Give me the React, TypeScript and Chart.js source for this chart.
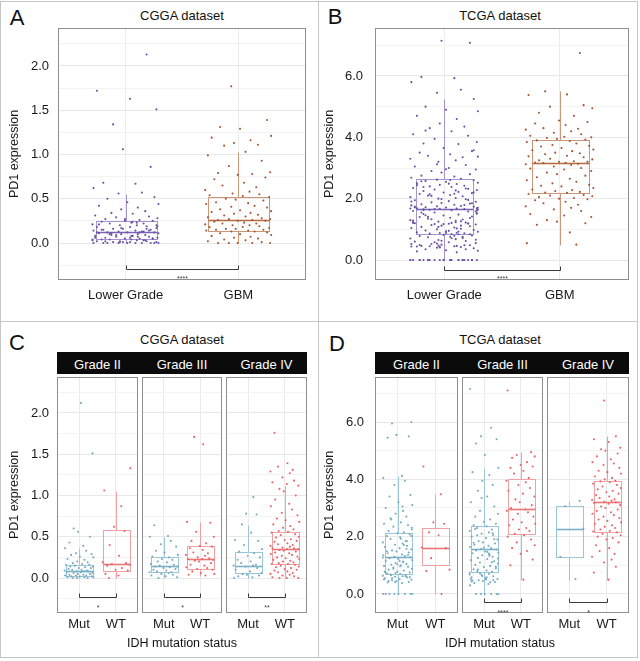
import React, { useEffect, useRef } from "react";
import { Chart, registerables } from "chart.js";
Chart.register(...registerables);

const FONT = '"Liberation Sans", Arial, Helvetica, sans-serif';

// ---------- categories & ticks ----------
const AB_CATEGORIES = ["Lower Grade", "GBM"];
const IDH_CATEGORIES = ["Mut", "WT"];
const GRADES = ["Grade II", "Grade III", "Grade IV"];
const CGGA_MAJOR_TICKS = [0, 0.5, 1, 1.5, 2];
const CGGA_MINOR_TICKS = [-0.25, 0.25, 0.75, 1.25, 1.75, 2.25];
const TCGA_MAJOR_TICKS = [0, 2, 4, 6];
const TCGA_MINOR_TICKS = [1, 3, 5, 7];

// ---------- box statistics: [lower whisker, Q1, median, Q3, upper whisker] ----------
const A_LG_BOX = [0, 0.04, 0.12, 0.25, 0.55];
const A_GBM_BOX = [0, 0.14, 0.26, 0.52, 1.03];
const B_LG_BOX = [0, 0.85, 1.67, 2.65, 5.25];
const B_GBM_BOX = [0.5, 2.18, 3.15, 3.92, 5.5];
const C_II_MUT_BOX = [0, 0.02, 0.08, 0.16, 0.36];
const C_II_WT_BOX = [0, 0.09, 0.17, 0.58, 1.06];
const C_III_MUT_BOX = [0, 0.07, 0.14, 0.26, 0.5];
const C_III_WT_BOX = [0.03, 0.11, 0.23, 0.39, 0.68];
const C_IV_MUT_BOX = [0, 0.06, 0.15, 0.32, 0.64];
const C_IV_WT_BOX = [0, 0.17, 0.35, 0.56, 1.12];
const D_II_MUT_BOX = [0, 0.7, 1.3, 2.12, 4.1];
const D_II_WT_BOX = [0, 1.0, 1.62, 2.3, 3.5];
const D_III_MUT_BOX = [0, 0.78, 1.57, 2.38, 4.4];
const D_III_WT_BOX = [0.5, 2.08, 2.95, 4.0, 4.95];
const D_IV_MUT_BOX = [0.5, 1.3, 2.28, 3.06, 3.25];
const D_IV_WT_BOX = [0.5, 2.18, 3.22, 3.93, 5.5];

// ---------- individual samples ----------
const A_LG = [2.13, 1.72, 1.63, 1.51, 1.34, 1.06, 0.86, 0.68, 0.67, 0.62, 0.57, 0.56, 0.52, 0.5, 0.46, 0.44, 0.42, 0.4, 0.38, 0.36, 0.34, 0.33, 0.31, 0.3, 0.29, 0.28, 0.27, 0.26, 0.25, 0.25, 0.24, 0.23, 0.22, 0.22, 0.21, 0.2, 0.2, 0.19, 0.18, 0.18, 0.17, 0.16, 0.16, 0.15, 0.15, 0.14, 0.14, 0.13, 0.13, 0.12, 0.12, 0.12, 0.11, 0.11, 0.1, 0.1, 0.09, 0.09, 0.08, 0.08, 0.07, 0.07, 0.06, 0.06, 0.05, 0.05, 0.05, 0.04, 0.04, 0.04, 0.03, 0.03, 0.03, 0.02, 0.02, 0.02, 0.01, 0.01, 0.01, 0.01, 0, 0, 0, 0, 0, 0, 0, 0, 0, 0,
  0.21, 0.07, 0.17, 0.03, 0.11, 0.24, 0.06, 0.14, 0.09, 0.19, 0.02, 0.12, 0.27, 0.05, 0.15, 0.08, 0.1, 0.13, 0.04, 0.23, 0.01, 0.16, 0.12, 0.06, 0.2];
const A_GBM = [1.77, 1.39, 1.31, 1.29, 1.21, 1.19, 1.16, 1.13, 1.11, 1.1, 1.03, 0.99, 0.93, 0.87, 0.8, 0.79, 0.78, 0.77, 0.74, 0.72, 0.68, 0.65, 0.63, 0.6, 0.58, 0.56, 0.55, 0.54, 0.53, 0.52, 0.5, 0.49, 0.48, 0.46, 0.45, 0.44, 0.42, 0.41, 0.4, 0.38, 0.37, 0.36, 0.35, 0.34, 0.33, 0.32, 0.31, 0.3, 0.29, 0.28, 0.27, 0.27, 0.26, 0.26, 0.25, 0.25, 0.24, 0.23, 0.22, 0.22, 0.21, 0.2, 0.2, 0.19, 0.18, 0.18, 0.17, 0.16, 0.16, 0.15, 0.15, 0.14, 0.14, 0.13, 0.13, 0.12, 0.11, 0.1, 0.09, 0.08, 0.07, 0.06, 0.05, 0.04, 0.03, 0.02, 0.01, 0, 0, 0, 0, 0];
const B_LG = [7.15, 7.08, 5.97, 5.93, 5.8, 5.55, 5.45, 5.25, 5.0, 4.9, 4.85, 4.7, 4.6, 4.45, 4.35, 4.3, 4.2, 4.1, 4.05, 3.95, 3.85, 3.8, 3.78, 3.65, 3.55, 3.5, 3.45, 3.4, 3.35, 3.3, 3.25, 3.2, 3.1, 3.05, 3.0, 2.95, 2.9, 2.85, 2.8, 2.75, 2.72, 2.68, 2.65,
  2.62, 2.6, 2.58, 2.55, 2.52, 2.5, 2.48, 2.45, 2.42, 2.4, 2.38, 2.35, 2.32, 2.3, 2.28, 2.25, 2.22, 2.2, 2.18, 2.15, 2.12, 2.1, 2.08, 2.05, 2.02, 2.0, 1.98, 1.95, 1.92, 1.9, 1.88, 1.86, 1.84, 1.82, 1.8, 1.78, 1.76, 1.75, 1.74, 1.72, 1.71, 1.7, 1.69, 1.68, 1.67,
  1.66, 1.64, 1.62, 1.6, 1.58, 1.55, 1.52, 1.5, 1.48, 1.45, 1.42, 1.4, 1.38, 1.35, 1.32, 1.3, 1.28, 1.25, 1.22, 1.2, 1.18, 1.16, 1.14, 1.12, 1.1, 1.08, 1.06, 1.04, 1.02, 1.0, 0.98, 0.96, 0.94, 0.92, 0.9, 0.89, 0.88, 0.87, 0.86, 0.85, 1.21, 1.19, 1.17, 1.62, 1.65,
  0.84, 0.82, 0.8, 0.78, 0.76, 0.74, 0.72, 0.7, 0.68, 0.65, 0.62, 0.6, 0.58, 0.55, 0.52, 0.5, 0.48, 0.46, 0.45, 0.44, 0.42, 0.4, 0.38, 0.35, 0.32, 0.3, 0.28, 0.25, 0, 0, 0, 0, 0, 0, 0, 0, 0, 0, 0, 0, 0, 0, 0, 0, 0,
  1.23, 0.47, 2.33, 1.71, 0.95, 1.58, 2.09, 0.63, 1.37, 2.57, 0.79, 1.91, 1.12, 0.54, 2.21, 1.46, 0.88, 1.64, 2.44, 1.03, 0.41, 1.79, 2.14, 0.71, 1.29, 1.96, 0.58, 1.52, 2.38, 0.93, 1.17, 1.85, 0.49, 2.61, 1.41, 0.76, 1.68, 2.27, 1.08, 0.35, 1.74, 2.49, 0.66, 1.33, 1.99, 0.84, 1.55, 2.16, 0.52, 1.26,
  3.12, 3.58, 4.22, 2.96, 3.37, 0.44, 0.46, 0.43, 0.48, 0.45, 1.21, 1.24, 1.19, 1.66, 1.69, 1.63, 0, 0, 0, 0, 0, 0, 0, 0];
const B_GBM = [6.75, 5.5, 5.4, 5.38, 5.05, 5.0, 4.95, 4.8, 4.7, 4.55, 4.5, 4.45, 4.4, 4.3, 4.28, 4.25, 4.2, 4.15, 4.1, 4.05, 4.02, 4.0, 3.98, 3.95, 3.93,
  3.9, 3.88, 3.85, 3.8, 3.75, 3.72, 3.7, 3.65, 3.6, 3.58, 3.55, 3.5, 3.48, 3.45, 3.4, 3.38, 3.35, 3.3, 3.28, 3.25, 3.22, 3.2, 3.2, 3.18, 3.17, 3.16,
  3.14, 3.12, 3.1, 3.05, 3.0, 2.98, 2.95, 2.9, 2.85, 2.8, 2.75, 2.7, 2.65, 2.6, 2.55, 2.5, 2.45, 2.42, 2.4, 2.35, 2.3, 2.28, 2.25, 2.22, 2.2, 2.19,
  2.15, 2.12, 2.1, 2.08, 2.05, 2.02, 2.0, 1.98, 1.95, 1.9, 1.85, 1.8, 1.75, 1.7, 1.65, 1.6, 1.5, 1.45, 1.4, 1.3, 1.25, 1.2, 1.15, 0.9, 0.55, 0.5];
const C_II_MUT = [2.12, 1.51, 0.6, 0.56, 0.5, 0.43, 0.39, 0.36, 0.33, 0.3, 0.29, 0.28, 0.26, 0.25, 0.23, 0.22, 0.2, 0.19, 0.18, 0.17, 0.16, 0.16, 0.15, 0.14, 0.14, 0.13, 0.12, 0.12, 0.11, 0.1, 0.1, 0.09, 0.09, 0.08, 0.08, 0.08, 0.07, 0.07, 0.06, 0.06, 0.05, 0.05, 0.04, 0.04, 0.03, 0.03, 0.03, 0.02, 0.02, 0.02, 0.01, 0.01, 0.01, 0, 0, 0];
const C_II_WT = [1.33, 1.06, 0.87, 0.62, 0.57, 0.4, 0.27, 0.19, 0.18, 0.17, 0.16, 0.15, 0.12, 0.1, 0.09, 0.05, 0.03, 0];
const C_III_MUT = [0.64, 0.51, 0.5, 0.45, 0.41, 0.38, 0.33, 0.31, 0.28, 0.26, 0.25, 0.23, 0.22, 0.2, 0.19, 0.17, 0.16, 0.15, 0.14, 0.14, 0.13, 0.12, 0.11, 0.1, 0.09, 0.08, 0.07, 0.07, 0.06, 0.05, 0.04, 0.03, 0.02, 0.01, 0];
const C_III_WT = [1.71, 1.62, 0.68, 0.67, 0.56, 0.5, 0.45, 0.42, 0.39, 0.38, 0.36, 0.34, 0.31, 0.3, 0.28, 0.27, 0.25, 0.24, 0.23, 0.23, 0.22, 0.21, 0.2, 0.18, 0.16, 0.15, 0.13, 0.12, 0.11, 0.1, 0.08, 0.06, 0.05, 0.04, 0.03];
const C_IV_MUT = [0.98, 0.78, 0.77, 0.65, 0.55, 0.46, 0.45, 0.4, 0.35, 0.32, 0.3, 0.27, 0.25, 0.22, 0.2, 0.18, 0.16, 0.15, 0.15, 0.14, 0.12, 0.1, 0.08, 0.06, 0.05, 0.04, 0.03, 0.02, 0.01, 0];
const C_IV_WT = [1.76, 1.39, 1.35, 1.31, 1.29, 1.27, 1.22, 1.18, 1.16, 1.14, 1.12, 1.08, 1.05, 1.0, 0.95, 0.9, 0.87, 0.83, 0.79, 0.76, 0.72, 0.7, 0.68, 0.65, 0.63, 0.61, 0.59, 0.57, 0.56, 0.55, 0.53, 0.52, 0.5, 0.49, 0.47, 0.46, 0.45, 0.44, 0.42, 0.41, 0.4, 0.39, 0.38, 0.37, 0.36, 0.36, 0.35, 0.35, 0.34, 0.33, 0.32, 0.31, 0.3, 0.29, 0.28, 0.27, 0.26, 0.25, 0.24, 0.23, 0.22, 0.21, 0.2, 0.19, 0.18, 0.17, 0.17, 0.16, 0.15, 0.14, 0.13, 0.12, 0.11, 0.1, 0.09, 0.08, 0.07, 0.06, 0.05, 0.04, 0.03, 0.02, 0.01, 0, 0, 0];
const D_II_MUT = [6.0, 5.95, 5.55, 5.5, 5.45, 4.12, 4.05, 3.95, 3.8, 3.45, 3.4, 3.2, 3.1, 3.0, 2.9, 2.8, 2.7, 2.6, 2.5, 2.45, 2.4, 2.35, 2.25, 2.2, 2.15, 2.12, 2.08, 2.02, 1.98, 1.92, 1.85, 1.8, 1.76, 1.72, 1.68, 1.64, 1.6, 1.56, 1.52, 1.48, 1.45, 1.42, 1.38, 1.35, 1.32, 1.3, 1.28, 1.25, 1.22, 1.18, 1.15, 1.12, 1.08, 1.05, 1.02, 1.0, 0.98, 0.95, 0.92, 0.88, 0.85, 0.82, 0.78, 0.75, 0.72, 0.7, 0.68, 0.66, 0.64, 0.62, 0.6, 0.58, 0.55, 0.52, 0.5, 0.48, 0.45, 0.42, 0.4, 0.38, 0, 0, 0, 0, 0, 0, 0, 0,
  1.12, 0.73, 1.58, 0.66, 1.93, 0.51, 1.36, 0.88, 2.31, 0.45, 1.71, 1.04, 0.59, 1.49, 0.97, 2.64, 0.62, 1.27, 3.05, 0.42, 1.84, 0.77, 1.15, 2.02, 0.55];
const D_II_WT = [4.45, 3.48, 2.5, 2.45, 2.15, 2.05, 1.62, 1.6, 1.25, 0.85, 0.8, 0];
const D_III_MUT = [7.15, 5.8, 5.5, 5.4, 5.25, 4.85, 4.4, 4.25, 4.15, 3.95, 3.8, 3.6, 3.4, 3.2, 3.05, 2.9, 2.8, 2.7, 2.6, 2.52, 2.45, 2.4, 2.36, 2.3, 2.25, 2.2, 2.15, 2.1, 2.05, 2.0, 1.95, 1.9, 1.85, 1.8, 1.76, 1.72, 1.68, 1.64, 1.6, 1.57, 1.55, 1.52, 1.48, 1.45, 1.42, 1.38, 1.35, 1.3, 1.26, 1.22, 1.18, 1.14, 1.1, 1.06, 1.02, 0.98, 0.94, 0.9, 0.86, 0.82, 0.79, 0.77, 0.74, 0.7, 0.66, 0.62, 0.58, 0.55, 0.52, 0.48, 0.45, 0.42, 0.38, 0.35, 0.3, 0, 0, 0, 0, 0, 0,
  0.47, 1.33, 0.63, 2.12, 0.85, 1.47, 0.52, 1.91, 0.72, 1.24, 2.27, 0.41, 1.62, 0.95, 1.79, 0.58, 2.05, 1.11, 0.68, 1.41, 3.35, 0.49, 0.44, 0.51];
const D_III_WT = [7.1, 4.95, 4.85, 4.8, 4.75, 4.6, 4.5, 4.45, 4.4, 4.3, 4.2, 4.05, 3.95, 3.9, 3.8, 3.7, 3.6, 3.5, 3.4, 3.3, 3.2, 3.1, 3.0, 2.95, 2.9, 2.85, 2.8, 2.7, 2.6, 2.5, 2.45, 2.4, 2.3, 2.25, 2.2, 2.1, 2.05, 2.0, 1.9, 1.8, 1.7, 1.6, 1.5, 1.4, 1.2, 1.0, 0.5];
const D_IV_MUT = [3.25, 3.06, 2.28, 1.3, 0.52];
const D_IV_WT = [6.75, 5.5, 5.4, 5.3, 5.1, 5.05, 5.0, 4.9, 4.8, 4.7, 4.6, 4.55, 4.5, 4.4, 4.3, 4.25, 4.2, 4.1, 4.05, 4.0, 3.95, 3.93, 3.9, 3.85, 3.8, 3.75, 3.7, 3.65, 3.6, 3.55, 3.5, 3.45, 3.4, 3.35, 3.3, 3.28, 3.25, 3.22, 3.2, 3.18, 3.15, 3.1, 3.05, 3.0, 2.95, 2.9, 2.85, 2.8, 2.75, 2.7, 2.65, 2.6, 2.55, 2.5, 2.45, 2.4, 2.35, 2.3, 2.25, 2.2, 2.18, 2.15, 2.1, 2.05, 2.0, 1.95, 1.9, 1.8, 1.7, 1.6, 1.5, 1.4, 1.3, 1.2, 1.1, 0.95, 0.75, 0.5];

// hand-typed horizontal jitter offsets (fraction of jitter width)
const JITTER = [0.62, -0.85, 0.13, 0.91, -0.37, -0.08, 0.74, -0.66, 0.29, -0.95, 0.48, -0.21, 0.85, -0.54, 0.05, 0.97, -0.79, 0.36, -0.13, 0.58, -0.42, 0.21, -0.9, 0.69, -0.28, 0.94, -0.6, 0.41, -0.02, 0.8, -0.71, 0.17, -0.47, 0.53, -0.98, 0.33, -0.17];

// significance labels
const SIG_A = "****";
const SIG_B = "****";
const SIG_C = ["*", "*", "**"];
const SIG_D = ["", "****", "*"];

// ---------- colours ----------
const PURPLE = { point: "#6a50a7", line: "#a693cf", median: "#7a62b6" };
const BROWN = { point: "#a3552e", line: "#cc9678", median: "#b4683f" };
const MUT = { point: "#74aac2", line: "#9cc6d7", median: "#7db1c6" };
const WT = { point: "#ea6467", line: "#f2a0a1", median: "#ea7476" };

type Group = { pos: number; values: number[]; box: number[]; col: { point: string; line: string; median: string }; j: number };
type Spec = {
  left: number; top: number; width: number; height: number;
  padL: number; padR: number; padT: number; yAxisW: number; xAxisH: number;
  yMin: number; yMax: number; majors: number[]; minors: number[];
  showY: boolean; yTitle?: string; yTitlePad?: number; yTickPad: number; xTickPad: number;
  labels: string[]; groups: Group[]; boxHalf: number; jitter: number;
  bracket?: { y: number; text: string; off: number };
};

function makeConfig(s: Spec): any {
  const isMajor = (v: number) => s.majors.some((m) => Math.abs(m - v) < 1e-9);
  const plugin = {
    id: "boxplotExtras",
    beforeDatasetsDraw(chart: any) {
      const { ctx } = chart;
      const x = chart.scales.x;
      const y = chart.scales.y;
      ctx.save();
      s.groups.forEach((g) => {
        const [lo, q1, med, q3, hi] = g.box;
        const cx = Math.round(x.getPixelForValue(g.pos)) + 0.5;
        const hw = x.getPixelForValue(g.pos + s.boxHalf) - x.getPixelForValue(g.pos);
        const py = (v: number) => Math.round(y.getPixelForValue(v)) + 0.5;
        ctx.strokeStyle = g.col.line;
        ctx.lineWidth = 1;
        ctx.beginPath();
        ctx.moveTo(cx, py(hi));
        ctx.lineTo(cx, py(q3));
        ctx.moveTo(cx, py(q1));
        ctx.lineTo(cx, py(lo));
        ctx.stroke();
        const l = Math.round(cx - hw) + 0.5;
        const r = Math.round(cx + hw) + 0.5;
        ctx.strokeRect(l, py(q3), r - l, py(q1) - py(q3));
        ctx.strokeStyle = g.col.median;
        ctx.lineWidth = 1.6;
        ctx.beginPath();
        ctx.moveTo(l, py(med));
        ctx.lineTo(r, py(med));
        ctx.stroke();
      });
      ctx.restore();
    },
    afterDraw(chart: any) {
      const { ctx, chartArea } = chart;
      const x = chart.scales.x;
      const y = chart.scales.y;
      ctx.save();
      ctx.strokeStyle = "#8e8e8e";
      ctx.lineWidth = 1;
      ctx.strokeRect(Math.round(chartArea.left) + 0.5, Math.round(chartArea.top) + 0.5, Math.round(chartArea.right - chartArea.left) - 1, Math.round(chartArea.bottom - chartArea.top) - 1);
      if (s.bracket && s.bracket.text) {
        const by = Math.round(y.getPixelForValue(s.bracket.y)) + 0.5;
        const x1 = Math.round(x.getPixelForValue(1)) + 0.5;
        const x2 = Math.round(x.getPixelForValue(2)) + 0.5;
        ctx.strokeStyle = "#3a3a3a";
        ctx.beginPath();
        ctx.moveTo(x1, by - 4);
        ctx.lineTo(x1, by);
        ctx.lineTo(x2, by);
        ctx.lineTo(x2, by - 4);
        ctx.stroke();
        ctx.fillStyle = "#3a3a3a";
        ctx.font = `7px ${FONT}`;
        ctx.textAlign = "center";
        ctx.textBaseline = "alphabetic";
        ctx.fillText(s.bracket.text, (x1 + x2) / 2, by + s.bracket.off + 4);
      }
      ctx.restore();
    },
  };
  return {
    type: "scatter",
    data: {
      datasets: s.groups.map((g) => ({
        data: g.values.map((v, i) => ({ x: g.pos + JITTER[(i + g.j) % JITTER.length] * s.jitter, y: v })),
        backgroundColor: g.col.point,
        borderColor: g.col.point,
        pointRadius: 1.05,
        pointBorderWidth: 0,
        pointHoverRadius: 1.05,
      })),
    },
    options: {
      animation: false,
      responsive: false,
      events: [],
      layout: { padding: { left: s.padL, right: s.padR, top: s.padT, bottom: 0 } },
      plugins: { legend: { display: false }, tooltip: { enabled: false }, title: { display: false } },
      scales: {
        x: {
          type: "linear",
          min: 0.4,
          max: 2.6,
          afterBuildTicks: (sc: any) => {
            sc.ticks = s.labels.map((_, i) => ({ value: i + 1 }));
          },
          afterFit: (sc: any) => {
            sc.height = s.xAxisH;
          },
          ticks: {
            autoSkip: false,
            maxRotation: 0,
            padding: s.xTickPad,
            color: "#1a1a1a",
            font: { size: 13, family: FONT },
            callback: (v: number) => s.labels[Math.round(v) - 1] ?? "",
          },
          grid: { color: "#ebebeb", drawTicks: false, lineWidth: 1 },
          border: { display: false },
        },
        y: {
          type: "linear",
          min: s.yMin,
          max: s.yMax,
          afterBuildTicks: (sc: any) => {
            sc.ticks = [...s.minors, ...s.majors].sort((a, b) => a - b).map((v) => ({ value: v }));
          },
          afterFit: (sc: any) => {
            sc.width = s.yAxisW;
          },
          ticks: {
            display: s.showY,
            autoSkip: false,
            padding: s.yTickPad,
            color: "#1a1a1a",
            font: { size: 13, family: FONT },
            callback: (v: number) => (isMajor(v) ? v.toFixed(1) : ""),
          },
          grid: {
            drawTicks: false,
            lineWidth: 1,
            color: (c: any) => (c.tick && isMajor(c.tick.value) ? "#e8e8e8" : "#f3f3f3"),
          },
          border: { display: false },
          title: {
            display: !!s.yTitle,
            text: s.yTitle || "",
            color: "#1a1a1a",
            font: { size: 12.5, family: FONT },
            padding: { top: s.yTitlePad || 0, bottom: 0 },
          },
        },
      },
    },
    plugins: [plugin],
  };
}

function Plot({ spec }: { spec: Spec }) {
  const ref = useRef<HTMLCanvasElement>(null);
  useEffect(() => {
    const chart = new Chart(ref.current as HTMLCanvasElement, makeConfig(spec));
    return () => chart.destroy();
  }, []);
  return (
    <canvas
      ref={ref}
      width={spec.width}
      height={spec.height}
      style={{ position: "absolute", left: spec.left, top: spec.top, width: spec.width, height: spec.height }}
    />
  );
}

function Txt({ x, y, size, children, color = "#111", weight = 400 }: any) {
  return (
    <div
      style={{
        position: "absolute",
        left: x,
        top: y,
        transform: "translate(-50%, -50%)",
        fontSize: size,
        lineHeight: 1,
        whiteSpace: "nowrap",
        color,
        fontWeight: weight,
        fontFamily: FONT,
      }}
    >
      {children}
    </div>
  );
}

function Strip({ left, right, top, bottom, centers }: any) {
  return (
    <>
      <div style={{ position: "absolute", left, top, width: right - left, height: bottom - top, background: "#0b0b0b" }} />
      {GRADES.map((g, i) => (
        <Txt key={g} x={centers[i]} y={(top + bottom) / 2 + 0.5} size={13} color="#fff">
          {g}
        </Txt>
      ))}
    </>
  );
}

const cggaY = { yMin: -0.424, yMax: 2.436, majors: CGGA_MAJOR_TICKS, minors: CGGA_MINOR_TICKS };
const tcgaY = { yMin: -0.663, yMax: 7.57, majors: TCGA_MAJOR_TICKS, minors: TCGA_MINOR_TICKS };

const SPEC_A: Spec = {
  left: 0, top: 0, width: 318, height: 320, padL: 0, padR: 12, padT: 28, yAxisW: 58, xAxisH: 40,
  yMin: -0.418, yMax: 2.429, majors: CGGA_MAJOR_TICKS, minors: CGGA_MINOR_TICKS,
  showY: true, yTitle: "PD1 expression", yTitlePad: 7, yTickPad: 9, xTickPad: 8,
  labels: AB_CATEGORIES, boxHalf: 0.27, jitter: 0.3,
  groups: [
    { pos: 1, values: A_LG, box: A_LG_BOX, col: PURPLE, j: 0 },
    { pos: 2, values: A_GBM, box: A_GBM_BOX, col: BROWN, j: 11 },
  ],
  bracket: { y: -0.29, text: SIG_A, off: 7 },
};
const SPEC_B: Spec = {
  left: 319, top: 0, width: 319, height: 320, padL: 0, padR: 9, padT: 28, yAxisW: 56, xAxisH: 40,
  yMin: -0.652, yMax: 7.565, majors: TCGA_MAJOR_TICKS, minors: TCGA_MINOR_TICKS,
  showY: true, yTitle: "PD1 expression", yTitlePad: 3.5, yTickPad: 12, xTickPad: 8,
  labels: AB_CATEGORIES, boxHalf: 0.25, jitter: 0.3,
  groups: [
    { pos: 1, values: B_LG, box: B_LG_BOX, col: PURPLE, j: 5 },
    { pos: 2, values: B_GBM, box: B_GBM_BOX, col: BROWN, j: 19 },
  ],
  bracket: { y: -0.33, text: SIG_B, off: 6 },
};

function facet(
  left: number, width: number, padL: number, first: boolean, yax: any, yTickPad: number, yTitlePad: number,
  mut: number[], mutBox: number[], wt: number[], wtBox: number[], sig: string, by: number, j: number
): Spec {
  return {
    left, top: 320, width, height: 341, padL, padR: 2, padT: 57, yAxisW: first ? 57 : 0, xAxisH: 48,
    ...yax, showY: first, yTitle: first ? "PD1 expression" : undefined, yTitlePad, yTickPad, xTickPad: 4,
    labels: IDH_CATEGORIES, boxHalf: 0.37, jitter: 0.4,
    groups: [
      { pos: 1, values: mut, box: mutBox, col: MUT, j },
      { pos: 2, values: wt, box: wtBox, col: WT, j: j + 13 },
    ],
    bracket: { y: by, text: sig, off: 8 },
  };
}

const SPECS_C: Spec[] = [
  facet(0, 140, 0, true, cggaY, 8, 7, C_II_MUT, C_II_MUT_BOX, C_II_WT, C_II_WT_BOX, SIG_C[0], -0.23, 2),
  facet(140, 84, 2, false, cggaY, 8, 7, C_III_MUT, C_III_MUT_BOX, C_III_WT, C_III_WT_BOX, SIG_C[1], -0.23, 7),
  facet(224, 85, 2, false, cggaY, 8, 7, C_IV_MUT, C_IV_MUT_BOX, C_IV_WT, C_IV_WT_BOX, SIG_C[2], -0.23, 17),
];
const SPECS_D: Spec[] = [
  facet(318, 142, 0, true, tcgaY, 11, 4.5, D_II_MUT, D_II_MUT_BOX, D_II_WT, D_II_WT_BOX, SIG_D[0], -0.28, 3),
  facet(460, 85, 2, false, tcgaY, 11, 4.5, D_III_MUT, D_III_MUT_BOX, D_III_WT, D_III_WT_BOX, SIG_D[1], -0.28, 9),
  facet(545, 86, 2, false, tcgaY, 11, 4.5, D_IV_MUT, D_IV_MUT_BOX, D_IV_WT, D_IV_WT_BOX, SIG_D[2], -0.28, 23),
];

const LINE = "#c6c6c6";

export default function App() {
  return (
    <div style={{ position: "absolute", left: 0, top: 0, width: 640, height: 661, background: "#fff", overflow: "hidden", fontFamily: FONT }}>
      <div style={{ position: "absolute", left: 0, top: 1, width: 638, height: 1, background: LINE }} />
      <div style={{ position: "absolute", left: 0, top: 657, width: 638, height: 1, background: LINE }} />
      <div style={{ position: "absolute", left: 0, top: 1, width: 1, height: 657, background: LINE }} />
      <div style={{ position: "absolute", left: 637, top: 1, width: 1, height: 657, background: LINE }} />
      <div style={{ position: "absolute", left: 318, top: 1, width: 1, height: 657, background: LINE }} />
      <div style={{ position: "absolute", left: 0, top: 321, width: 638, height: 1, background: LINE }} />

      <Txt x={17} y={18} size={22}>A</Txt>
      <Txt x={335} y={17} size={22}>B</Txt>
      <Txt x={17} y={343} size={22}>C</Txt>
      <Txt x={337} y={344} size={22}>D</Txt>

      <Txt x={182} y={15} size={13}>CGGA dataset</Txt>
      <Txt x={500} y={15} size={13}>TCGA dataset</Txt>
      <Txt x={182} y={339} size={13}>CGGA dataset</Txt>
      <Txt x={500} y={339} size={13}>TCGA dataset</Txt>

      <Strip left={57} right={307} top={352} bottom={374} centers={[97.5, 182, 266.5]} />
      <Strip left={375} right={629} top={352} bottom={374} centers={[416.5, 502.5, 588]} />

      <Plot spec={SPEC_A} />
      <Plot spec={SPEC_B} />
      {SPECS_C.map((s, i) => <Plot key={"c" + i} spec={s} />)}
      {SPECS_D.map((s, i) => <Plot key={"d" + i} spec={s} />)}

      <Txt x={182} y={643} size={12.5}>IDH mutation status</Txt>
      <Txt x={500} y={643} size={12.5}>IDH mutation status</Txt>
    </div>
  );
}
